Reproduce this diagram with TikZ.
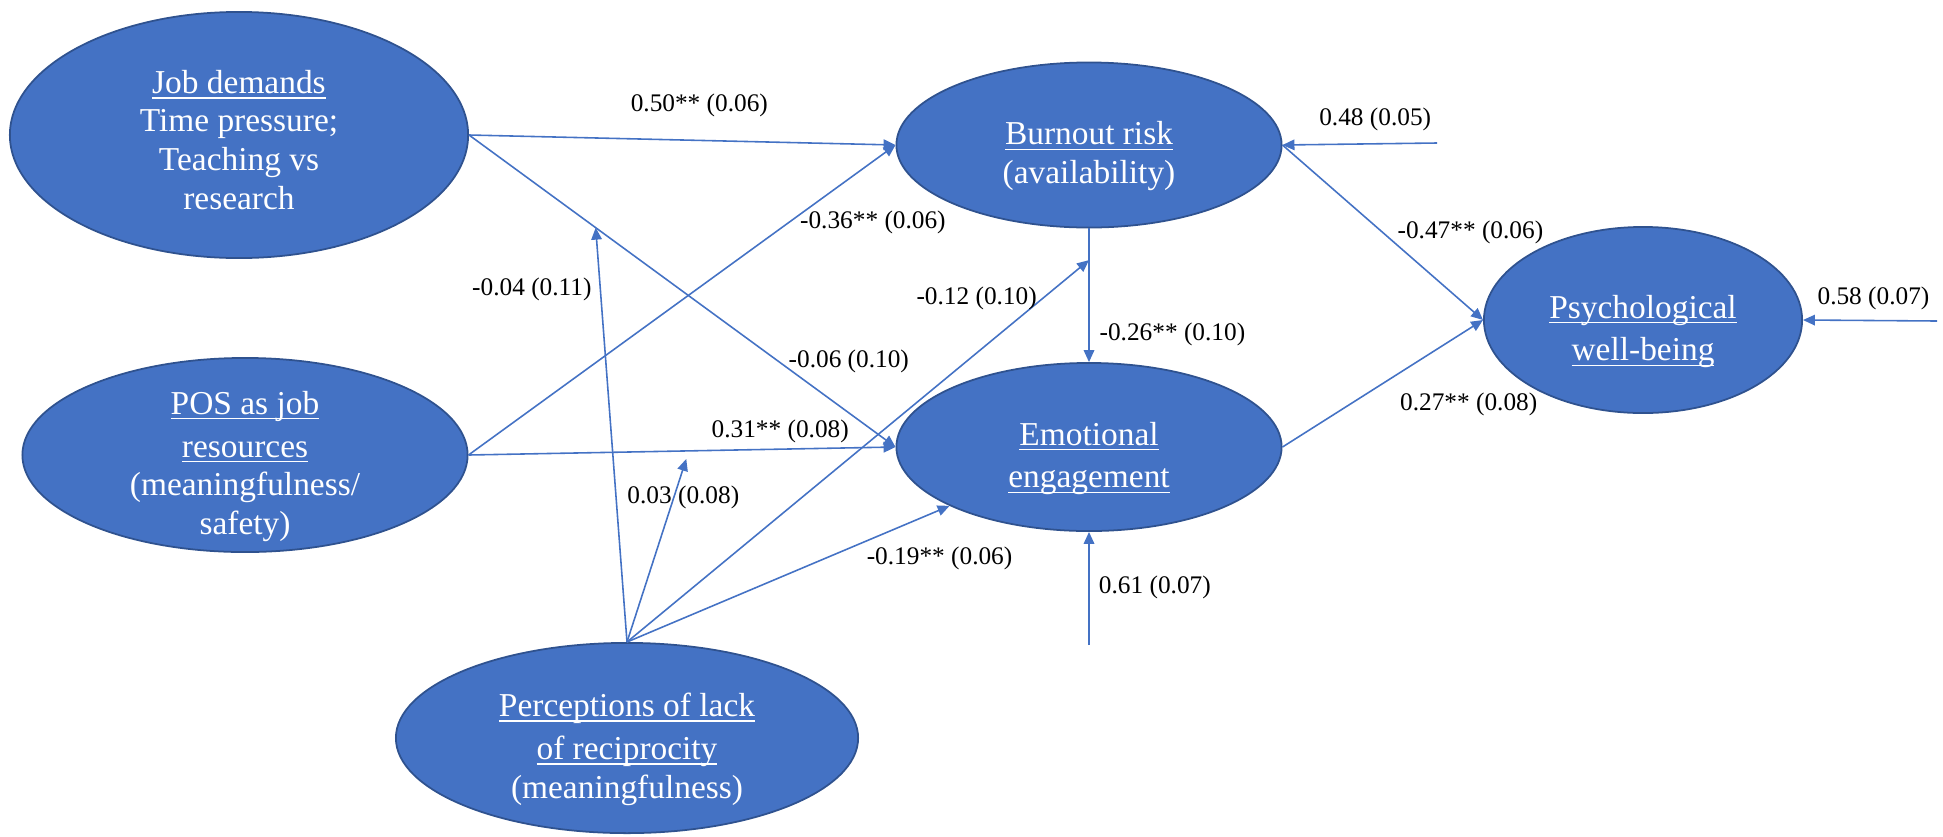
\documentclass[tikz,border=0pt]{standalone}
\usepackage{fontspec}
\setmainfont{Liberation Serif}
\usepackage{amsmath}
\usepackage{tikz}
\usetikzlibrary{arrows.meta,positioning,shapes.geometric,calc}
\definecolor{ellblue}{HTML}{4472C4}
\definecolor{ellrim}{HTML}{2F528F}
\newcommand{\utitle}[1]{\rule{0pt}{9.3pt}\underline{\smash[b]{#1}}}
\newcommand{\dropstrut}{\rule{0pt}{13pt}}

\begin{document}
\begin{tikzpicture}[x=0.01cm, y=-0.01cm,
  lv/.style={ellipse, draw=ellrim, fill=ellblue, line width=0.5pt, text=white, align=center, inner sep=0pt, font=\fontsize{9.5}{11}\selectfont},
  arr/.style={-{Triangle[length=3.4pt, width=3pt]}, draw=ellblue, line width=0.45pt},
  lab/.style={font=\fontsize{7.2}{8.6}\selectfont, inner sep=1pt}]
\useasboundingbox (0,0) rectangle (1943,836);
\node[lv, minimum width=4.58cm, minimum height=2.46cm] (jd) at (239,135) {\utitle{Job demands}\\Time pressure;\\Teaching vs\\research};
\node[lv, minimum width=4.45cm, minimum height=1.94cm, inner ysep=-6pt] (pos) at (245,455) {\dropstrut\utitle{POS as job}\\\utitle{resources}\\(meaningfulness/\\safety)};
\node[lv, minimum width=4.62cm, minimum height=1.90cm] (per) at (627,738) {\dropstrut\utitle{Perceptions of lack}\\\utitle{of reciprocity}\\(meaningfulness)};
\node[lv, minimum width=3.85cm, minimum height=1.65cm] (bur) at (1089,145) {\dropstrut\utitle{Burnout risk}\\(availability)};
\node[lv, minimum width=3.85cm, minimum height=1.68cm] (emo) at (1089,447) {\dropstrut\utitle{Emotional}\\\utitle{engagement}};
\node[lv, minimum width=3.18cm, minimum height=1.86cm] (psy) at (1643,320) {\dropstrut\utitle{Psychological}\\\utitle{well-being}};
% error terms
\coordinate (e1) at (1437,143);
\coordinate (e2) at (1089,645);
\coordinate (e3) at (1937,321);
% points on the paths that are moderated
\coordinate (m1) at ($(jd.east)!0.297!(emo.west)$);
\coordinate (m2) at ($(pos.east)!0.51!(emo.west)+(0,8)$);
\coordinate (m3) at ($(bur.south)!0.237!(emo.north)$);
\draw[arr] (jd.east) -- node[lab, pos=0.54, above=5.5pt] (wjb) {0.50** (0.06)} (bur.west);
\draw[arr] (jd.east) -- node[lab, pos=0.727, right=1.5pt] (wje) {-0.06 (0.10)} (emo.west);
\draw[arr] (pos.east) -- node[lab, pos=0.75, right=2pt] (wpb) {-0.36** (0.06)} (bur.west);
\draw[arr] (pos.east) -- node[lab, pos=0.73, above=0.5pt] (wpe) {0.31** (0.08)} (emo.west);
\draw[arr] (bur.south) -- node[lab, pos=0.79, right=1.8pt] (wbe) {-0.26** (0.10)} (emo.north);
\draw[arr] (bur.east) -- node[lab, pos=0.5, right=3pt] (wbp) {-0.47** (0.06)} (psy.west);
\draw[arr] (emo.east) -- node[lab, pos=0.565, anchor=north west, yshift=-3.9pt] (wep) {0.27** (0.08)} (psy.west);
\draw[arr] (per.north) -- node[lab, pos=0.85, left=1.3pt] (wr1) {-0.04 (0.11)} (m1);
\draw[arr] (per.north) -- node[lab, pos=0.79, xshift=2.7pt] (wr2) {0.03 (0.08)} (m2);
\draw[arr] (per.north) -- node[lab, pos=0.9, left=0.5pt] (wr3) {-0.12 (0.10)} (m3);
\draw[arr] (per.north) -- node[lab, pos=0.73, anchor=north west] (wre) {-0.19** (0.06)} (emo);
\draw[arr] (e1) -- node[lab, pos=0.4, above=2.5pt] (v1) {0.48 (0.05)} (bur.east);
\draw[arr] (e2) -- node[lab, pos=0.51, right=1.6pt] (v2) {0.61 (0.07)} (emo.south);
\draw[arr] (e3) -- node[lab, pos=0.474, above=1.7pt] (v3) {0.58 (0.07)} (psy.east);
\end{tikzpicture}
\end{document}
